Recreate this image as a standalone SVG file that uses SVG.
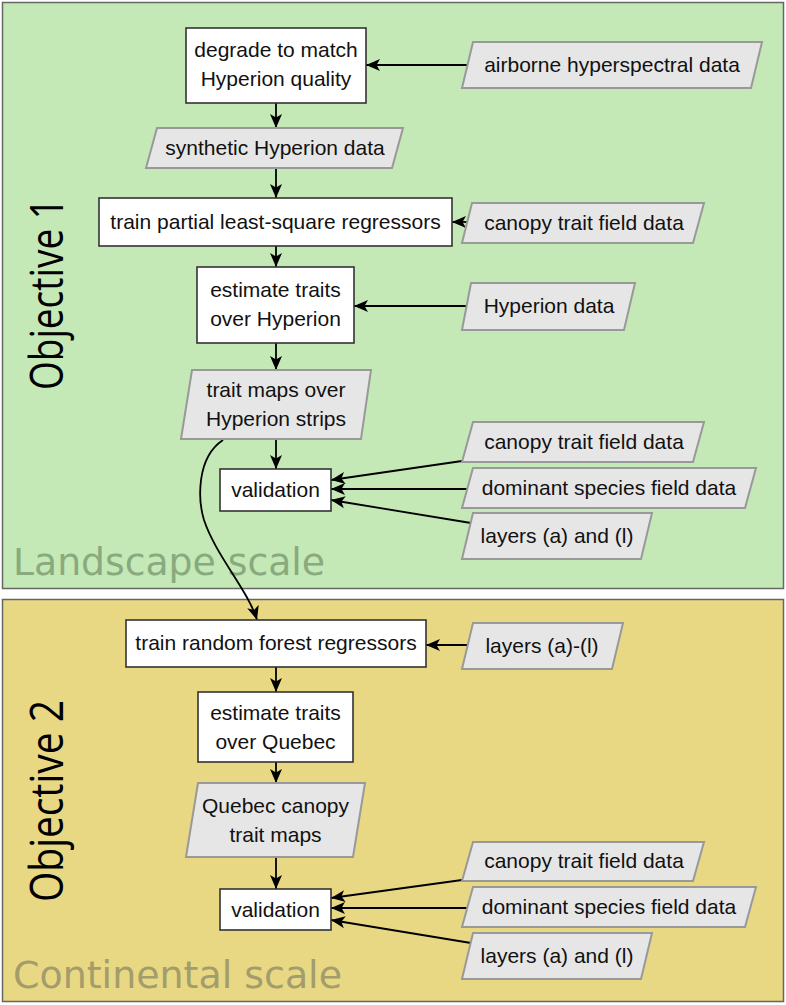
<svg xmlns="http://www.w3.org/2000/svg" width="786" height="1005" viewBox="0 0 786 1005">
<defs>
<style>
.panel{stroke:#666;stroke-width:1.5}
.proc{fill:#fff;stroke:#333;stroke-width:1.6}
.data{fill:#e6e6e6;stroke:#999;stroke-width:2}
.t{font-family:"Liberation Sans",Arial,sans-serif;font-size:21px;fill:#111;text-anchor:middle}
.obj{font-family:"Open Sans","Noto Sans",sans-serif;font-size:46px;fill:#000;text-anchor:middle}
.scale{font-family:"DejaVu Sans",Verdana,sans-serif;font-size:37px}
.c{fill:none;stroke:#000;stroke-width:1.8;marker-end:url(#ah)}
</style>
<marker id="ah" markerUnits="userSpaceOnUse" markerWidth="15" markerHeight="12" refX="14" refY="6" orient="auto" viewBox="0 0 15 12">
<path d="M0,0 L14,6 L0,12 L3.5,6 z" fill="#000"/>
</marker>
</defs>

<g id="panel-landscape">
<rect class="panel" x="2.5" y="2.5" width="781" height="586" fill="#c5e8b7"/>
<text class="scale" x="13" y="575" fill="#88aa7e" textLength="312" lengthAdjust="spacingAndGlyphs">Landscape scale</text>
<text class="obj" transform="translate(63,294) rotate(-90)" textLength="192" lengthAdjust="spacingAndGlyphs">Objective 1</text>
</g>
<g id="panel-continental">
<rect class="panel" x="2.5" y="599.5" width="781" height="402" fill="#e8d883"/>
<text class="scale" x="13" y="988" fill="#a39c6c" textLength="329" lengthAdjust="spacingAndGlyphs">Continental scale</text>
<text class="obj" transform="translate(63,801) rotate(-90)" textLength="202" lengthAdjust="spacingAndGlyphs">Objective 2</text>
</g>

<g id="connectors">
<line class="c" x1="467" y1="65" x2="366" y2="65"/>
<line class="c" x1="276" y1="103" x2="276" y2="128"/>
<line class="c" x1="276" y1="168" x2="276" y2="198"/>
<line class="c" x1="467" y1="222" x2="452" y2="222"/>
<line class="c" x1="276" y1="246" x2="276" y2="267"/>
<line class="c" x1="467" y1="306" x2="354" y2="306"/>
<line class="c" x1="276" y1="343" x2="276" y2="370"/>
<line class="c" x1="276" y1="439" x2="276" y2="469"/>
<line class="c" x1="462" y1="461" x2="331" y2="480"/>
<line class="c" x1="467" y1="489" x2="331" y2="489"/>
<line class="c" x1="471" y1="523" x2="331" y2="500"/>
<path class="c" d="M223,440 C196,458 198,500 204,520 C216,556 248,590 257,620"/>
<line class="c" x1="467" y1="645" x2="426" y2="645"/>
<line class="c" x1="276" y1="667" x2="276" y2="692"/>
<line class="c" x1="276" y1="762" x2="276" y2="783"/>
<line class="c" x1="276" y1="857" x2="276" y2="889"/>
<line class="c" x1="462" y1="880" x2="331" y2="898"/>
<line class="c" x1="467" y1="908" x2="331" y2="908"/>
<line class="c" x1="471" y1="943" x2="331" y2="920"/>
</g>

<g id="degrade">
<rect class="proc" x="186" y="28" width="180" height="75"/>
<text class="t" x="276" y="57">degrade to match</text>
<text class="t" x="276" y="86">Hyperion quality</text>
</g>
<g id="airborne">
<polygon class="data" points="473,42 762,42 751,88 462,88"/>
<text class="t" x="612" y="72">airborne hyperspectral data</text>
</g>
<g id="synthetic">
<polygon class="data" points="157,128 403,128 392,168 146,168"/>
<text class="t" x="275" y="155">synthetic Hyperion data</text>
</g>
<g id="train-plsr">
<rect class="proc" x="99" y="198" width="353" height="48"/>
<text class="t" x="275.5" y="229">train partial least-square regressors</text>
</g>
<g id="canopy-1">
<polygon class="data" points="472,203 704,203 693,243 462,243"/>
<text class="t" x="584" y="230">canopy trait field data</text>
</g>
<g id="estimate-hyperion">
<rect class="proc" x="197" y="267" width="157" height="76"/>
<text class="t" x="275.5" y="297">estimate traits</text>
<text class="t" x="275.5" y="326">over Hyperion</text>
</g>
<g id="hyperion-data">
<polygon class="data" points="471,283 635,283 624,330 462,330"/>
<text class="t" x="549" y="313">Hyperion data</text>
</g>
<g id="trait-maps">
<polygon class="data" points="192,370 371,370 361,439 181,439"/>
<text class="t" x="276" y="397">trait maps over</text>
<text class="t" x="276" y="426">Hyperion strips</text>
</g>
<g id="validation-1">
<rect class="proc" x="220" y="469" width="111" height="42"/>
<text class="t" x="275.5" y="497">validation</text>
</g>
<g id="canopy-2">
<polygon class="data" points="473,422 704,422 693,462 462,462"/>
<text class="t" x="584" y="449">canopy trait field data</text>
</g>
<g id="dominant-2">
<polygon class="data" points="473,468 756,468 745,508 462,508"/>
<text class="t" x="609" y="495">dominant species field data</text>
</g>
<g id="layers-2">
<polygon class="data" points="473,513 652,513 641,559 462,559"/>
<text class="t" x="557" y="543">layers (a) and (l)</text>
</g>

<g id="train-rf">
<rect class="proc" x="126" y="620" width="300" height="47"/>
<text class="t" x="276" y="650">train random forest regressors</text>
</g>
<g id="layers-al">
<polygon class="data" points="473,623 623,623 612,669 462,669"/>
<text class="t" x="542" y="653">layers (a)-(l)</text>
</g>
<g id="estimate-quebec">
<rect class="proc" x="198" y="692" width="155" height="70"/>
<text class="t" x="275.5" y="720">estimate traits</text>
<text class="t" x="275.5" y="749">over Quebec</text>
</g>
<g id="quebec-maps">
<polygon class="data" points="198,783 365,783 353,857 186,857"/>
<text class="t" x="275.5" y="813">Quebec canopy</text>
<text class="t" x="275.5" y="842">trait maps</text>
</g>
<g id="validation-2">
<rect class="proc" x="220" y="889" width="111" height="41"/>
<text class="t" x="275.5" y="917">validation</text>
</g>
<g id="canopy-3">
<polygon class="data" points="473,842 704,842 693,881 462,881"/>
<text class="t" x="584" y="868">canopy trait field data</text>
</g>
<g id="dominant-3">
<polygon class="data" points="473,887 756,887 745,927 462,927"/>
<text class="t" x="609" y="914">dominant species field data</text>
</g>
<g id="layers-3">
<polygon class="data" points="473,933 652,933 641,979 462,979"/>
<text class="t" x="557" y="963">layers (a) and (l)</text>
</g>
</svg>
